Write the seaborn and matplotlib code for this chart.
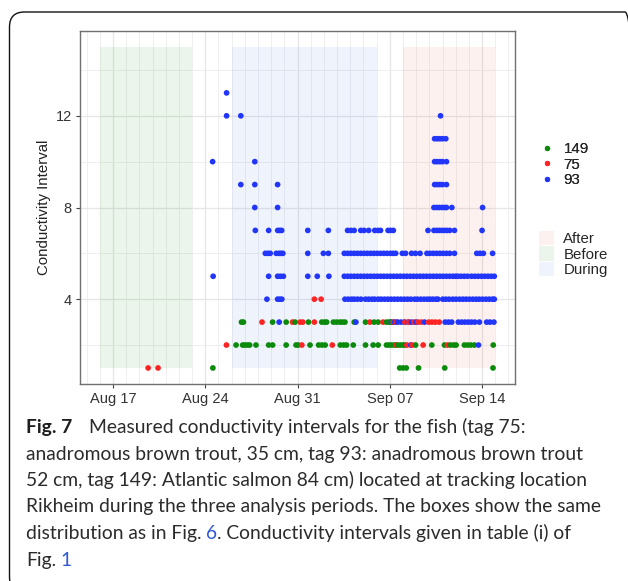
import pandas as pd
import matplotlib
matplotlib.use("Agg")
import matplotlib.pyplot as plt
import matplotlib.dates as mdates
from matplotlib.patches import FancyBboxPatch, Patch
from matplotlib.lines import Line2D
import seaborn as sns

# -----------------------------
# Data (days after 17 Aug, per conductivity interval)
# -----------------------------
start = pd.Timestamp("2020-08-17")

tags = ["149", "75", "93"]
tag_colors = ["#0b8a0b", "#ff2424", "#2236fa"]

tag149 = {
    1: [7.58, 21.75, 22.00, 22.25, 23.18, 25.17, 28.83],
    2: [9.34, 9.84, 10.00, 10.20, 10.37, 10.85, 11.81, 12.11, 13.14, 13.89,
        14.05, 14.95, 15.60, 15.85, 16.10, 17.25, 17.50, 17.72, 18.23, 19.16,
        19.74, 20.12, 20.75, 20.95, 21.15, 21.37, 21.60, 21.80, 22.00, 22.13,
        22.96, 24.19, 25.15, 25.60, 25.85, 26.03, 26.66, 26.90, 27.15, 27.42,
        28.85],
    3: [9.75, 9.90, 12.11, 13.14, 13.82, 14.83, 15.84, 16.05, 16.21, 16.72,
        16.95, 17.20, 17.40, 17.60, 18.30, 19.16, 19.81, 20.12, 20.75, 20.95,
        21.12],
}

tag75 = {
    1: [2.67, 3.42],
    2: [8.61, 14.33, 16.64, 21.50, 22.30, 22.70, 23.53, 25.38],
    3: [11.31, 13.62, 14.20, 14.40, 15.28, 19.49, 20.49, 21.27, 21.50, 22.15,
        22.45, 22.85, 23.15, 23.40, 23.95, 24.20, 24.45, 24.75],
    4: [15.28, 15.79],
}

tag93 = {
    2: [22.60, 27.73],
    3: [12.61, 18.43, 21.10, 21.37, 21.60, 21.85, 22.10, 22.40, 22.65, 23.00,
        23.64, 25.20, 25.45, 25.70, 26.20, 26.45, 26.70, 26.95, 27.20, 27.45,
        27.80, 28.35, 28.60, 28.90],
    4: [11.68, 12.49, 12.65, 12.81, 17.60, 17.85, 18.10, 18.30, 18.55, 18.81,
        19.16, 19.40, 19.65, 19.86, 20.12, 20.35, 20.60, 20.85, 21.10, 21.35,
        21.60, 21.85, 22.10, 22.35, 22.60, 22.89, 23.10, 23.35, 23.60, 23.85,
        24.05, 24.27, 24.50, 24.65, 25.02, 25.25, 25.50, 25.78, 26.03, 26.30,
        26.55, 26.79, 27.04, 27.30, 27.55, 27.79, 28.04, 28.30, 28.55, 28.80,
        28.93],
    5: [7.60, 11.81, 12.49, 12.70, 12.93, 14.78, 15.50, 16.38, 17.55, 17.80,
        18.05, 18.30, 18.55, 18.80, 19.05, 19.30, 19.55, 19.80, 20.05, 20.30,
        20.55, 20.80, 21.05, 21.30, 21.55, 21.80, 22.05, 22.30, 22.55, 22.80,
        23.05, 23.30, 23.55, 23.80, 24.05, 24.30, 24.55, 24.80, 25.05, 25.30,
        25.55, 25.80, 26.00, 26.15, 26.40, 26.65, 26.90, 27.20, 27.45, 27.70,
        27.95, 28.20, 28.45, 28.70, 28.93],
    6: [11.56, 11.75, 11.93, 12.39, 12.60, 12.75, 12.89, 14.78, 15.96, 16.34,
        17.55, 17.80, 18.05, 18.30, 18.55, 18.80, 19.05, 19.30, 19.55, 19.80,
        20.05, 20.30, 20.55, 20.80, 21.05, 21.25, 21.45, 21.95, 22.20, 22.65,
        22.95, 23.30, 23.82, 24.05, 24.30, 24.55, 24.80, 25.05, 25.30, 25.55,
        25.91, 27.60, 27.85, 28.10, 28.80],
    7: [10.80, 11.81, 12.50, 12.65, 12.80, 14.78, 16.34, 17.80, 18.05, 18.30,
        18.80, 19.05, 19.40, 19.86, 20.10, 20.30, 20.87, 21.05, 21.27, 23.90,
        24.35, 24.55, 24.75, 24.95, 25.15, 25.35, 25.55, 25.91, 28.00],
    8: [10.76, 12.49, 24.35, 24.55, 24.75, 24.95, 25.15, 25.30, 25.71, 28.04],
    9: [9.70, 10.76, 12.49, 24.40, 24.60, 24.80, 25.00, 25.30],
    10: [7.56, 10.76, 24.40, 24.60, 24.80, 25.00, 25.30],
    11: [24.40, 24.60, 24.80, 25.00, 25.25],
    12: [8.62, 9.70, 24.85],
    13: [8.62],
}

# analysis periods (days after 17 Aug), interval range 1-15
periods = ["After", "Before", "During"]
period_start = [22, -1, 9]
period_end = [29, 6, 20]
period_colors = ["#e8442e", "#008b00", "#4d7fe6"]
period_alpha = [0.07, 0.08, 0.09]
period_ylow, period_yhigh = 1, 15

caption_lines = [
    "anadromous brown trout, 35 cm, tag 93: anadromous brown trout",
    "52 cm, tag 149: Atlantic salmon 84 cm) located at tracking location",
    "Rikheim during the three analysis periods. The boxes show the same",
]

# -----------------------------
# Build data frame
# -----------------------------
rows = []
for tag, table in zip(tags, [tag149, tag75, tag93]):
    for interval, days in table.items():
        for d in days:
            rows.append((start + pd.Timedelta(days=d), interval, tag))
df = pd.DataFrame(rows, columns=["time", "interval", "tag"]).sort_values("time")

# -----------------------------
# Plot
# -----------------------------
sns.set_style("white")
plt.rcParams["font.family"] = ["Liberation Sans", "DejaVu Sans"]

fig = plt.figure(figsize=(6.28, 5.81), dpi=100)
ax = fig.add_axes([80 / 628, 1 - 384 / 581, 435 / 628, 353 / 581])

for s, e, c, a in zip(period_start, period_end, period_colors, period_alpha):
    ax.fill_between([start + pd.Timedelta(days=s), start + pd.Timedelta(days=e)],
                    period_ylow, period_yhigh, color=c, alpha=a, lw=0, zorder=1)

sns.scatterplot(data=df, x="time", y="interval", hue="tag",
                palette=dict(zip(tags, tag_colors)), s=17, linewidth=0,
                legend=False, ax=ax, zorder=3)

ax.set_xlim(start - pd.Timedelta(days=2.5), start + pd.Timedelta(days=30.5))
ax.set_ylim(0.3, 15.7)

ax.xaxis.set_major_locator(mdates.WeekdayLocator(byweekday=mdates.MO))
ax.xaxis.set_minor_locator(mdates.DayLocator())
ax.xaxis.set_major_formatter(mdates.DateFormatter("%b %d"))
ax.set_yticks([4, 8, 12])
ax.set_yticks([2, 6, 10, 14], minor=True)

ax.set_axisbelow(True)
ax.grid(which="major", color="#e6e6e6", lw=0.9)
ax.grid(which="minor", color="#ececec", lw=0.6)
for sp in ax.spines.values():
    sp.set_color("#707070")
    sp.set_linewidth(1.0)

ax.tick_params(which="major", length=3.2, width=0.8, color="#444444",
               labelsize=10.5, labelcolor="#333333", pad=2.6,
               bottom=True, left=True)
ax.tick_params(which="minor", length=0)

ax.set_xlabel("")
ax.set_ylabel("Conductivity Interval", fontsize=10.8, color="#222222")
ax.yaxis.set_label_coords(-0.066, 0.5)

# legends
pt_handles = [Line2D([], [], marker="o", ls="", ms=3.8, color=c, mew=0)
              for c in tag_colors]
leg1 = fig.legend(pt_handles, tags, loc="upper left",
                  bbox_to_anchor=(539.4 / 628, 1 - 142 / 581),
                  frameon=False, fontsize=10.8, handlelength=1.0,
                  handletextpad=0.6, labelspacing=0.1, borderpad=0,
                  borderaxespad=0)

fill_handles = [Patch(facecolor=c, alpha=a, lw=0)
                for c, a in zip(period_colors, period_alpha)]
leg2 = fig.legend(fill_handles, periods, loc="upper left",
                  bbox_to_anchor=(538.6 / 628, 1 - 230.5 / 581),
                  frameon=False, fontsize=10.8, handlelength=1.05,
                  handleheight=1.15, handletextpad=0.6, labelspacing=0.0,
                  borderpad=0, borderaxespad=0)
fig.add_artist(leg1)

# -----------------------------
# Caption
# -----------------------------
cap_font = ["Lato", "DejaVu Sans"]
cap_color = "#2b2b2b"
link_color = "#2f57d6"

probe = fig.text(0, 0, caption_lines[2], fontsize=14, family=cap_font)
w = probe.get_window_extent(renderer=fig.canvas.get_renderer()).width
probe.remove()
fs = 14 * 576.7 / w

x0 = 26
baselines = [433, 460, 486, 512, 539, 566]

def fpx(x, y):
    return (x / 628, 1 - y / 581)

fig.text(*fpx(x0, baselines[0]), "Fig. 7", fontsize=fs, family=cap_font,
         weight="bold", color="#1e1e1e", va="baseline")
fig.text(*fpx(89, baselines[0]),
         "Measured conductivity intervals for the fish (tag 75:",
         fontsize=fs, family=cap_font, color=cap_color, va="baseline")

for line, yb in zip(caption_lines, baselines[1:4]):
    fig.text(*fpx(x0, yb), line, fontsize=fs, family=cap_font,
             color=cap_color, va="baseline")

space = fs * 0.24
t5 = fig.text(*fpx(x0, baselines[4]), "distribution as in Fig.", fontsize=fs,
              family=cap_font, color=cap_color, va="baseline")
n6 = ax.annotate("6", xy=(1, 1 - baselines[4] / 581),
                 xycoords=(t5, "figure fraction"), xytext=(space, 0),
                 textcoords="offset points", fontsize=fs, family=cap_font,
                 color=link_color, va="baseline", annotation_clip=False)
ax.annotate(". Conductivity intervals given in table (i) of",
            xy=(1, 1 - baselines[4] / 581), xycoords=(n6, "figure fraction"),
            fontsize=fs, family=cap_font, color=cap_color, va="baseline",
            annotation_clip=False)

t6 = fig.text(*fpx(x0, baselines[5]), "Fig.", fontsize=fs, family=cap_font,
              color=cap_color, va="baseline")
ax.annotate("1", xy=(1, 1 - baselines[5] / 581),
            xycoords=(t6, "figure fraction"), xytext=(space, 0),
            textcoords="offset points", fontsize=fs, family=cap_font,
            color=link_color, va="baseline", annotation_clip=False)

# rounded frame around the figure
frame = FancyBboxPatch((9.5 / 100, (581 - 592) / 100), (640 - 9.5) / 100,
                       (592 - 12) / 100, boxstyle="round,pad=0,rounding_size=0.15",
                       transform=fig.dpi_scale_trans, fill=False,
                       edgecolor="#111111", lw=1.0, clip_on=False)
fig.add_artist(frame)

plt.savefig("out.png", dpi=100)
